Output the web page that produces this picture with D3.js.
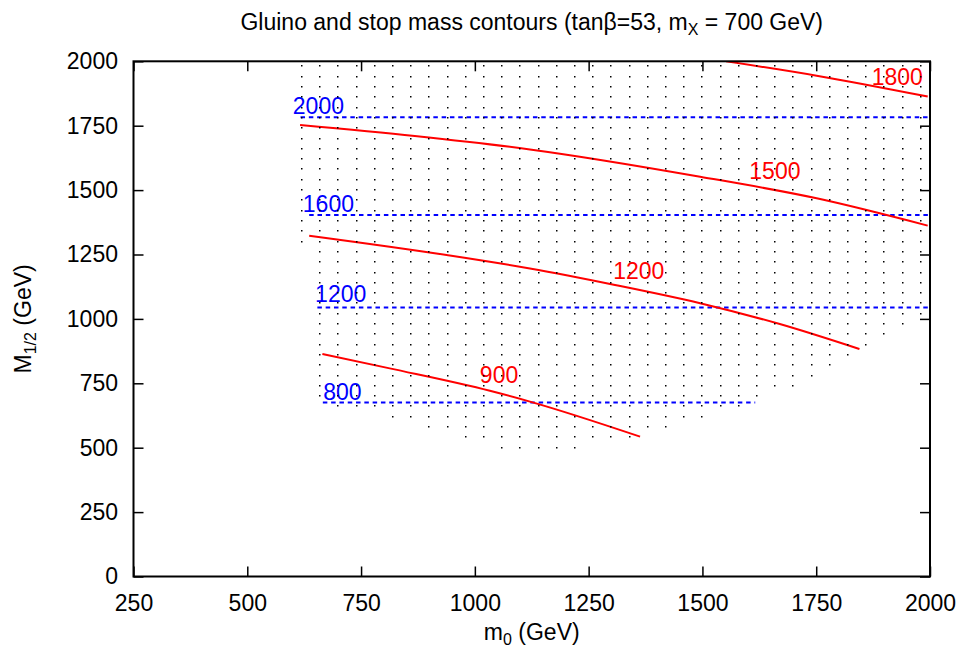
<!DOCTYPE html>
<html>
<head>
<meta charset="utf-8">
<script src="https://cdn.jsdelivr.net/npm/d3@7"></script>
<style>
body { margin: 0; background: #fff; }
text { font-family: "Liberation Sans", Arial, Helvetica, sans-serif; }
</style>
</head>
<body>
<svg id="drawing_region"></svg>
<script>
// scan grid: one row per M1/2, first and last sampled m0 of the row
const gridRows = [500, 540, 580, 620, 660, 700, 740, 780, 820, 860, 900, 940, 980,
    1020, 1060, 1100, 1140, 1180, 1220, 1260, 1300, 1340, 1380, 1420, 1460, 1500,
    1540, 1580, 1620, 1660, 1700, 1740, 1780, 1820, 1860, 1900, 1940, 1980];
const rowStart = [1060, 980, 900, 820, 700,
    660, 660, 660, 660, 660, 660, 660, 660, 660, 660, 660, 660, 660, 660, 660,
    620, 620, 620, 620, 620, 620, 620, 620, 620, 620, 620, 620, 620, 620, 620, 620, 620, 620];
const rowEnd = [1220, 1340, 1420, 1500, 1580, 1620, 1700, 1740, 1780, 1820, 1860, 1900, 1940,
    1980, 1980, 1980, 1980, 1980, 1980, 1980, 1980, 1980, 1980, 1980, 1980, 1980,
    1980, 1980, 1980, 1980, 1980, 1980, 1980, 1980, 1980, 1980, 1980, 1980];
const gridStep = 40;

// gluino mass contours (red)
const gluinoLevels = [900, 1200, 1500, 1800];
const gluinoM0 = [
    [665, 813, 1033, 1121, 1363],
    [636, 938, 1121, 1308, 1495, 1670, 1845],
    [616, 868, 1121, 1495, 1751, 1995],
    [1552, 1751, 1995]
];
const gluinoM12 = [
    [864, 808, 721, 679, 543],
    [1323, 1248, 1196, 1132, 1061, 980, 883],
    [1753, 1710, 1658, 1552, 1468, 1362],
    [2000, 1944, 1863]
];
const gluinoLabelM0 = [1011, 1304, 1603, 1872];
const gluinoLabelM12 = [750, 1155, 1543, 1908];

// stop mass contours (blue)
const stopLevels = [800, 1200, 1600, 2000];
const stopM12 = [675, 1044, 1403, 1783];
const stopStart = [666, 654, 636, 617];
const stopEnd = [1616, 2000, 2000, 2000];
const stopLabelM0 = [667, 649, 622, 600];
const stopLabelM12 = [685, 1064, 1414, 1794];

const xTicks = [250, 500, 750, 1000, 1250, 1500, 1750, 2000];
const yTicks = [0, 250, 500, 750, 1000, 1250, 1500, 1750, 2000];

class ContourPlot {
    constructor(config) {
        this.config = {
            parent: config.parent,
            width: config.width || 962,
            height: config.height || 650,
            margin: config.margin || {top: 61.3, right: 32, bottom: 73.5, left: 133.5}
        };
        this.init();
    }

    init() {
        let self = this;
        let m = self.config.margin;
        self.inner_width = self.config.width - m.left - m.right;
        self.inner_height = self.config.height - m.top - m.bottom;

        self.svg = d3.select(self.config.parent)
            .attr('width', self.config.width)
            .attr('height', self.config.height);

        self.chart = self.svg.append('g')
            .attr('transform', `translate(${m.left}, ${m.top})`);

        self.xscale = d3.scaleLinear().domain([250, 2000]).range([0, self.inner_width]);
        self.yscale = d3.scaleLinear().domain([0, 2000]).range([self.inner_height, 0]);

        self.svg.append('clipPath').attr('id', 'plotclip')
            .append('rect')
            .attr('width', self.inner_width)
            .attr('height', self.inner_height);
    }

    render() {
        let self = this;
        const x = self.xscale, y = self.yscale;
        const m = self.config.margin;
        const fs = 23;

        // grid points, snapped to whole pixels
        let dots = [];
        gridRows.forEach((r, i) => {
            d3.range(rowStart[i], rowEnd[i] + 1, gridStep).forEach(c => dots.push([c, r]));
        });
        self.svg.append('g').selectAll('rect')
            .data(dots)
            .join('rect')
            .attr('x', d => Math.round(m.left + x(d[0])) - 1)
            .attr('y', d => Math.round(m.top + y(d[1])) - 1)
            .attr('width', 1.5)
            .attr('height', 1.5)
            .attr('fill', '#000');

        const plot = self.chart.append('g').attr('clip-path', 'url(#plotclip)');

        // stop contours
        plot.selectAll('.stop')
            .data(stopLevels)
            .join('line')
            .attr('x1', (d, i) => x(stopStart[i]))
            .attr('x2', (d, i) => x(stopEnd[i]))
            .attr('y1', (d, i) => y(stopM12[i]))
            .attr('y2', (d, i) => y(stopM12[i]))
            .attr('stroke', '#0000ff')
            .attr('stroke-width', 2)
            .attr('stroke-dasharray', '4.5,3.8');

        // gluino contours
        const line = d3.line()
            .x(d => x(d[0]))
            .y(d => y(d[1]))
            .curve(d3.curveMonotoneX);
        plot.selectAll('.gluino')
            .data(gluinoLevels)
            .join('path')
            .attr('d', (d, i) => line(gluinoM0[i].map((v, j) => [v, gluinoM12[i][j]])))
            .attr('fill', 'none')
            .attr('stroke', '#ff0000')
            .attr('stroke-width', 2);

        // contour labels
        self.chart.selectAll('.glabel')
            .data(gluinoLevels)
            .join('text')
            .attr('x', (d, i) => x(gluinoLabelM0[i]))
            .attr('y', (d, i) => y(gluinoLabelM12[i]))
            .attr('fill', '#ff0000')
            .attr('font-size', fs)
            .text(d => d);
        self.chart.selectAll('.slabel')
            .data(stopLevels)
            .join('text')
            .attr('x', (d, i) => x(stopLabelM0[i]))
            .attr('y', (d, i) => y(stopLabelM12[i]))
            .attr('fill', '#0000ff')
            .attr('font-size', fs)
            .text(d => d);

        // axes, ticks pointing inward on all four sides
        const bottom = self.chart.append('g')
            .attr('transform', `translate(0, ${self.inner_height})`)
            .call(d3.axisBottom(x).tickValues(xTicks).tickSize(-10).tickPadding(18).tickFormat(d3.format('d')));
        const top = self.chart.append('g')
            .call(d3.axisTop(x).tickValues(xTicks).tickSize(-10).tickFormat(''));
        const left = self.chart.append('g')
            .call(d3.axisLeft(y).tickValues(yTicks).tickSize(-10).tickPadding(15.5).tickFormat(d3.format('d')));
        const right = self.chart.append('g')
            .attr('transform', `translate(${self.inner_width}, 0)`)
            .call(d3.axisRight(y).tickValues(yTicks).tickSize(-10).tickFormat(''));
        [bottom, top, left, right].forEach(g => {
            g.select('.domain').remove();
            g.selectAll('line').attr('stroke', '#000').attr('stroke-width', 1.5);
            g.selectAll('text')
                .attr('font-size', fs)
                .attr('font-family', '"Liberation Sans", Arial, Helvetica, sans-serif')
                .attr('fill', '#000');
        });

        self.chart.append('rect')
            .attr('width', self.inner_width)
            .attr('height', self.inner_height)
            .attr('fill', 'none')
            .attr('stroke', '#000')
            .attr('stroke-width', 2);

        // title and axis labels
        const title = self.svg.append('text')
            .attr('x', m.left + self.inner_width / 2)
            .attr('y', 30)
            .attr('text-anchor', 'middle')
            .attr('font-size', fs);
        title.append('tspan').text('Gluino and stop mass contours (tan\u03B2=53, m');
        title.append('tspan').attr('font-size', 16).attr('dy', 5).text('X');
        title.append('tspan').attr('dy', -5).text(' = 700 GeV)');

        const xlabel = self.svg.append('text')
            .attr('x', m.left + self.inner_width / 2)
            .attr('y', 640)
            .attr('text-anchor', 'middle')
            .attr('font-size', fs);
        xlabel.append('tspan').text('m');
        xlabel.append('tspan').attr('font-size', 16).attr('dy', 5).text('0');
        xlabel.append('tspan').attr('dy', -5).text(' (GeV)');

        const ylabel = self.svg.append('text')
            .attr('transform', `translate(31, ${m.top + self.inner_height / 2}) rotate(-90)`)
            .attr('text-anchor', 'middle')
            .attr('font-size', fs);
        ylabel.append('tspan').text('M');
        ylabel.append('tspan').attr('font-size', 16).attr('dy', 5).text('1/2');
        ylabel.append('tspan').attr('dy', -5).text(' (GeV)');
    }
}

const plot = new ContourPlot({ parent: '#drawing_region', width: 962, height: 650 });
plot.render();
</script>
</body>
</html>
